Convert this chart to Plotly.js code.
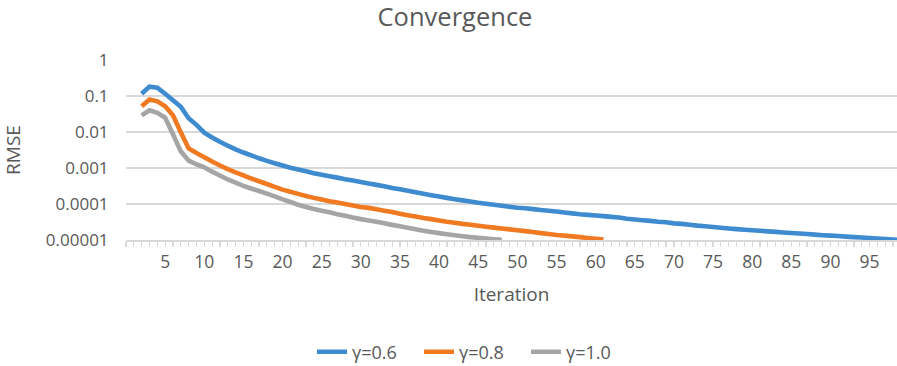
<!DOCTYPE html>
<html>
<head>
<meta charset="utf-8">
<script src="https://cdn.plot.ly/plotly-3.0.1.min.js"></script>
<style>
  html, body { margin: 0; padding: 0; background: #ffffff; }
  #chart { width: 897px; height: 366px; }
</style>
</head>
<body>
<div id="chart"></div>
<script>
// Iteration numbers (x values); each series uses as many as it has values.
const iterations = [2, 3, 4, 5, 6, 7, 8, 9, 10, 11, 12, 13, 14, 15, 16, 17, 18, 19, 20,
  21, 22, 23, 24, 25, 26, 27, 28, 29, 30, 31, 32, 33, 34, 35, 36, 37, 38, 39, 40,
  41, 42, 43, 44, 45, 46, 47, 48, 49, 50, 51, 52, 53, 54, 55, 56, 57, 58, 59, 60,
  61, 62, 63, 64, 65, 66, 67, 68, 69, 70, 71, 72, 73, 74, 75, 76, 77, 78, 79, 80,
  81, 82, 83, 84, 85, 86, 87, 88, 89, 90, 91, 92, 93, 94, 95, 96, 97, 98, 99];

const seriesNames = ['γ=0.6', 'γ=0.8', 'γ=1.0'];

// RMSE per iteration, γ = 0.6
const rmseGamma06 = [
  0.115, 0.182, 0.170, 0.115, 0.0759, 0.0501, 0.0240, 0.0158, 0.00955, 0.00708,
  0.00537, 0.00417, 0.00331, 0.00269, 0.00224, 0.00186, 0.00158, 0.00135, 0.00117, 0.00102,
  9.1e-4, 8.1e-4, 7.2e-4, 6.5e-4, 5.9e-4, 5.4e-4, 4.9e-4, 4.5e-4, 4.1e-4, 3.7e-4,
  3.4e-4, 3.1e-4, 2.8e-4, 2.57e-4, 2.32e-4, 2.11e-4, 1.93e-4, 1.76e-4, 1.62e-4, 1.48e-4,
  1.36e-4, 1.26e-4, 1.17e-4, 1.08e-4, 1.01e-4, 9.5e-5, 8.9e-5, 8.4e-5, 7.9e-5, 7.6e-5,
  7.2e-5, 6.8e-5, 6.5e-5, 6.2e-5, 5.8e-5, 5.5e-5, 5.2e-5, 5.0e-5, 4.8e-5, 4.6e-5,
  4.4e-5, 4.2e-5, 3.9e-5, 3.7e-5, 3.55e-5, 3.4e-5, 3.2e-5, 3.1e-5, 2.9e-5, 2.8e-5,
  2.66e-5, 2.51e-5, 2.4e-5, 2.29e-5, 2.19e-5, 2.09e-5, 2.0e-5, 1.93e-5, 1.86e-5, 1.80e-5,
  1.74e-5, 1.68e-5, 1.62e-5, 1.57e-5, 1.51e-5, 1.46e-5, 1.41e-5, 1.36e-5, 1.32e-5, 1.29e-5,
  1.24e-5, 1.20e-5, 1.17e-5, 1.13e-5, 1.10e-5, 1.07e-5, 1.03e-5, 1.0e-5
];

// RMSE per iteration, γ = 0.8
const rmseGamma08 = [
  0.052, 0.080, 0.071, 0.052, 0.029, 0.0098, 0.0035, 0.0026, 0.0020, 0.00151,
  0.00117, 9.3e-4, 7.6e-4, 6.2e-4, 5.1e-4, 4.3e-4, 3.6e-4, 3.0e-4, 2.5e-4, 2.19e-4,
  1.91e-4, 1.66e-4, 1.48e-4, 1.33e-4, 1.20e-4, 1.10e-4, 1.00e-4, 9.1e-5, 8.3e-5, 7.8e-5,
  7.1e-5, 6.5e-5, 6.0e-5, 5.4e-5, 4.9e-5, 4.5e-5, 4.1e-5, 3.8e-5, 3.5e-5, 3.2e-5,
  3.0e-5, 2.8e-5, 2.66e-5, 2.5e-5, 2.34e-5, 2.21e-5, 2.09e-5, 1.97e-5, 1.86e-5, 1.76e-5,
  1.66e-5, 1.55e-5, 1.46e-5, 1.38e-5, 1.32e-5, 1.26e-5, 1.20e-5, 1.14e-5, 1.08e-5, 1.03e-5
];

// RMSE per iteration, γ = 1.0
const rmseGamma10 = [
  0.029, 0.040, 0.034, 0.025, 0.0087, 0.0029, 0.0016, 0.00127, 0.00105, 7.9e-4,
  6.2e-4, 4.8e-4, 3.9e-4, 3.2e-4, 2.7e-4, 2.29e-4, 1.95e-4, 1.62e-4, 1.35e-4, 1.14e-4,
  9.5e-5, 8.3e-5, 7.3e-5, 6.5e-5, 5.9e-5, 5.2e-5, 4.7e-5, 4.2e-5, 3.8e-5, 3.5e-5,
  3.2e-5, 2.9e-5, 2.63e-5, 2.4e-5, 2.19e-5, 2.0e-5, 1.82e-5, 1.66e-5, 1.55e-5, 1.45e-5,
  1.35e-5, 1.27e-5, 1.20e-5, 1.15e-5, 1.10e-5, 1.05e-5, 1.01e-5
];

// Axis labels
const xTickVals = [5, 10, 15, 20, 25, 30, 35, 40, 45, 50, 55, 60, 65, 70, 75, 80, 85, 90, 95];
const yTickVals = [1, 0.1, 0.01, 0.001, 0.0001, 0.00001];
const yTickText = ['1', '0.1', '0.01', '0.001', '0.0001', '0.00001'];

const seriesValues = [rmseGamma06, rmseGamma08, rmseGamma10];
const seriesColors = ['#3F8BD0', '#F07A22', '#A5A5A5'];

const FONT = 'Open Sans, Lato, sans-serif';
const TEXT = '#595959';
const GRID = '#D9D9D9';

const traces = seriesValues.map((vals, i) => ({
  type: 'scatter',
  mode: 'lines',
  name: seriesNames[i],
  x: iterations.slice(0, vals.length),
  y: vals,
  line: { color: seriesColors[i], width: 4.6, shape: 'linear', simplify: false },
  hoverinfo: 'x+y+name'
}));

const layout = {
  width: 897,
  height: 366,
  paper_bgcolor: '#ffffff',
  plot_bgcolor: '#ffffff',
  margin: { l: 126, r: 0, t: 60, b: 126 },
  font: { family: FONT, color: TEXT, size: 17 },
  title: {
    text: 'Convergence',
    font: { family: FONT, size: 25.5, color: TEXT },
    x: 455 / 897, xref: 'container', xanchor: 'center',
    y: 1 - 17 / 366, yref: 'container', yanchor: 'middle'
  },
  xaxis: {
    range: [0, 98.5],
    tickmode: 'array',
    tickvals: xTickVals,
    ticks: 'outside',
    ticklen: 5,
    tickwidth: 1.2,
    tickcolor: GRID,
    minor: { dtick: 1, tick0: 0, ticks: 'outside', ticklen: 5, tickwidth: 1.2, tickcolor: GRID, showgrid: false },
    showgrid: false,
    showline: true,
    linecolor: GRID,
    linewidth: 1.5,
    zeroline: false,
    tickfont: { family: FONT, size: 17.5, color: TEXT },
    title: { text: 'Iteration', font: { family: FONT, size: 19, color: TEXT }, standoff: 16 }
  },
  yaxis: {
    type: 'log',
    range: [-5, 0],
    tickmode: 'array',
    tickvals: yTickVals,
    ticktext: yTickText,
    ticks: 'outside',
    ticklen: 13,
    tickcolor: 'rgba(0,0,0,0)',
    showgrid: true,
    gridcolor: GRID,
    gridwidth: 1.5,
    showline: false,
    zeroline: false,
    tickfont: { family: FONT, size: 17, color: TEXT },
    title: { text: 'RMSE', font: { family: FONT, size: 19, color: TEXT }, standoff: 22 }
  },
  showlegend: true,
  legend: {
    orientation: 'h',
    xref: 'container', yref: 'container',
    x: 312 / 897, xanchor: 'left',
    y: 14 / 366, yanchor: 'middle',
    entrywidth: 62,
    entrywidthmode: 'pixels',
    font: { family: FONT, size: 18, color: TEXT },
    bgcolor: 'rgba(0,0,0,0)',
    itemclick: false, itemdoubleclick: false
  }
};

Plotly.newPlot('chart', traces, layout, { displayModeBar: false, staticPlot: true });
</script>
</body>
</html>
